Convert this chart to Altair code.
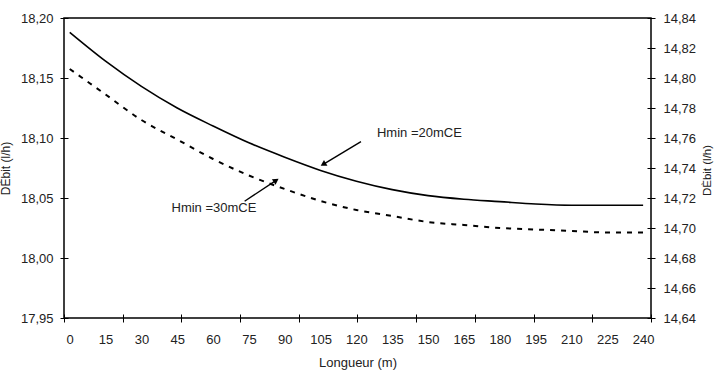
import altair as alt
import pandas as pd

# ---- data ----
lengths = [0, 15, 30, 45, 60, 75, 90, 105, 120, 135, 150, 165, 180, 195, 210, 225, 240]
debit_20 = [18.188, 18.164, 18.143, 18.125, 18.110, 18.096, 18.084, 18.073, 18.064,
            18.057, 18.052, 18.049, 18.047, 18.045, 18.044, 18.044, 18.044]          # left axis
debit_30 = [14.806, 14.789, 14.772, 14.759, 14.746, 14.735, 14.726, 14.718, 14.712,
            14.708, 14.704, 14.702, 14.700, 14.699, 14.698, 14.697, 14.697]          # right axis

left_ticks = [17.95, 18.00, 18.05, 18.10, 18.15, 18.20]
right_ticks = [14.64, 14.66, 14.68, 14.70, 14.72, 14.74, 14.76, 14.78, 14.80, 14.82, 14.84]
x_labels = lengths

# annotations (data coordinates, left-axis scale)
ann_text = ["Hmin =20mCE", "Hmin =30mCE"]
ann_text_x = [128.6, 42.6]
ann_text_y = [18.1038, 18.0417]
arrow_x0 = [121.9, 73.2]
arrow_y0 = [18.097, 18.0473]
arrow_x1 = [106.1, 86.4]
arrow_y1 = [18.0781, 18.0647]
arrow_angle = [239, 57]

X_DOMAIN = [-2.4, 243.3]
LEFT_DOMAIN = [17.95, 18.20]
RIGHT_DOMAIN = [14.64, 14.84]
x_tick_marks = [X_DOMAIN[0] + k * (X_DOMAIN[1] - X_DOMAIN[0]) / 10 for k in range(11)]

FONT = "Liberation Sans"
TXT = "#222222"

df = pd.DataFrame({"L": lengths, "d20": debit_20, "d30": debit_30})
ann = pd.DataFrame({"t": ann_text, "tx": ann_text_x, "ty": ann_text_y,
                    "x0": arrow_x0, "y0": arrow_y0, "x1": arrow_x1, "y1": arrow_y1,
                    "ang": arrow_angle})

comma_fmt = "replace(format(datum.value, '.2f'), '.', ',')"

xs = alt.Scale(domain=X_DOMAIN, nice=False, zero=False)
ls = alt.Scale(domain=LEFT_DOMAIN, nice=False, zero=False)
rs = alt.Scale(domain=RIGHT_DOMAIN, nice=False, zero=False)

solid = alt.Chart(df).mark_line(color="black", strokeWidth=1.6, interpolate="monotone").encode(
    x=alt.X("L:Q", scale=xs, axis=alt.Axis(
        orient="bottom", values=x_labels, ticks=False, domain=False, grid=False,
        labelPadding=15, labelFontSize=13, labelColor=TXT, labelFont=FONT,
        title="Longueur (m)", titleFontSize=13, titleFontWeight="normal", titleColor=TXT,
        titleFont=FONT, titleBaseline="middle", titleY=44)),
    y=alt.Y("d20:Q", scale=ls, axis=alt.Axis(
        orient="left", values=left_ticks, labelExpr=comma_fmt, offset=-4, tickSize=8,
        tickColor="black", domain=False, grid=False, labelPadding=7, labelFontSize=13,
        labelColor=TXT, labelFont=FONT,
        title="DÈbit (l/h)", titleFontSize=12, titleFontWeight="normal", titleColor=TXT,
        titleFont=FONT, titleAngle=270, titleAlign="center", titleBaseline="middle",
        titleX=-63, titleY=150)),
)

dashed = alt.Chart(df).mark_line(color="black", strokeWidth=2, strokeDash=[5, 6],
                                 interpolate="monotone").encode(
    x=alt.X("L:Q", scale=xs, axis=alt.Axis(
        orient="bottom", values=x_tick_marks, labels=False, offset=-4, tickSize=8,
        tickColor="black", domain=False, grid=False, title=None)),
    y=alt.Y("d30:Q", scale=rs, axis=alt.Axis(
        orient="right", values=right_ticks, labelExpr=comma_fmt, offset=-4, tickSize=8,
        tickColor="black", domain=False, grid=False, labelPadding=8, labelFontSize=13,
        labelColor=TXT, labelFont=FONT,
        title="DÈbit (l/h)", titleFontSize=11.5, titleFontWeight="normal", titleColor=TXT,
        titleFont=FONT, titleAngle=270, titleAlign="center", titleBaseline="middle",
        titleX=60, titleY=152)),
)

base = alt.Chart(ann)
arrows = base.mark_rule(color="black", strokeWidth=1.4).encode(
    x=alt.X("x0:Q", scale=xs, axis=None), y=alt.Y("y0:Q", scale=ls, axis=None),
    x2="x1:Q", y2="y1:Q")
heads = base.mark_point(shape="triangle-up", filled=True, color="black", size=45, opacity=1).encode(
    x=alt.X("x1:Q", scale=xs, axis=None), y=alt.Y("y1:Q", scale=ls, axis=None),
    angle=alt.Angle("ang:Q", scale=None))
labels = base.mark_text(align="left", baseline="middle", fontSize=13, font=FONT, color=TXT).encode(
    x=alt.X("tx:Q", scale=xs, axis=None), y=alt.Y("ty:Q", scale=ls, axis=None), text="t:N")

chart = alt.layer(solid, dashed, arrows, heads, labels).resolve_scale(
    x="independent", y="independent").resolve_axis(x="independent", y="independent").properties(
    width=587, height=300,
    autosize=alt.AutoSizeParams(type="none"),
    padding={"left": 64, "top": 18, "right": 65, "bottom": 61},
    background="white",
).configure_view(stroke="black", strokeWidth=1.5)

chart.save("out.html", embed_options={"renderer": "svg", "actions": False})
